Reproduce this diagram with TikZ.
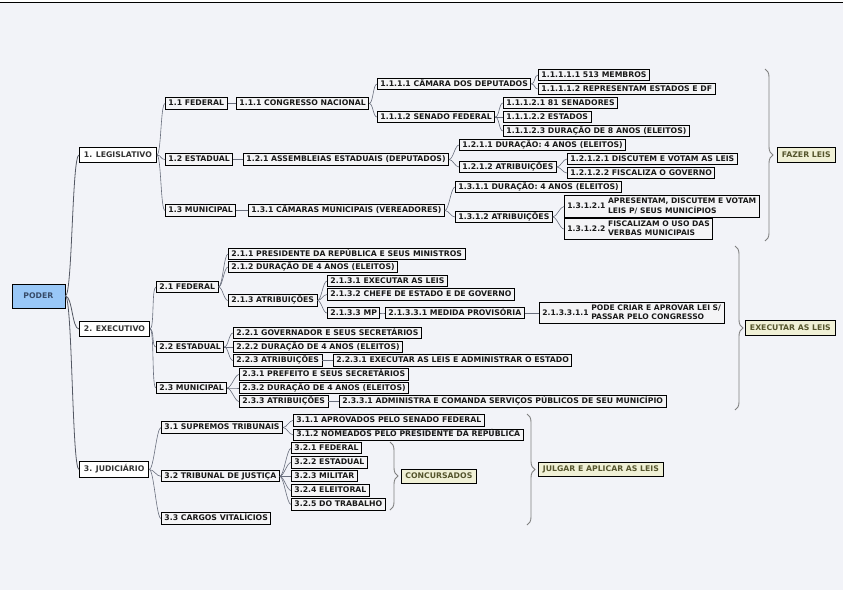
\documentclass[tikz,border=0pt]{standalone}
\usepackage{fontspec}
\setmainfont{DejaVu Sans}
\usetikzlibrary{decorations.pathreplacing}
\definecolor{bg}{RGB}{242,243,248}
\definecolor{boxfill}{RGB}{244,244,246}
\definecolor{linecol}{RGB}{105,110,125}
\definecolor{podfill}{RGB}{153,199,247}
\definecolor{podtext}{RGB}{55,75,105}
\definecolor{sumfill}{RGB}{240,240,214}
\definecolor{sumtext}{RGB}{85,85,45}
\definecolor{bracecol}{RGB}{128,128,128}
\begin{document}
\begin{tikzpicture}[x=1pt,y=-1pt,
 base/.style={draw=black, line width=0.9pt, fill=boxfill, anchor=west, inner xsep=3pt, font=\fontsize{7.75}{8.6}\selectfont\bfseries, text=black!90},
 box/.style={base, inner ysep=2pt, text height=5.6pt, text depth=1.6pt},
 mbox/.style={base, inner ysep=1.5pt, font=\fontsize{7.6}{8.6}\selectfont\bfseries},
 lvl1/.style={base, fill=white, inner xsep=4.5pt, inner ysep=4pt, text height=5.6pt, text depth=1.6pt, text=black!80},
 sumbox/.style={base, fill=sumfill, text=sumtext, inner xsep=4.5pt, inner ysep=3.5pt, text height=5.6pt, text depth=1.6pt},
 conn/.style={draw=linecol, line width=0.6pt, out=0, in=180},
 mainconn/.style={draw=linecol!80!black, line width=0.8pt, out=0, in=180},
 bracesty/.style={draw=bracecol, line width=0.9pt, decorate, decoration={brace, amplitude=8pt}},
]
\useasboundingbox (0,0) rectangle (843,590);
\fill[bg] (0,0) rectangle (843,590);
\fill[white] (0,0) rectangle (843,2);
\draw[line width=1.4pt] (0,2.7) -- (843,2.7);

% root
\node[base, fill=podfill, text=podtext, minimum width=53pt, minimum height=24pt, anchor=west, line width=0.9pt] (poder) at (11.5,296) {PODER};

% level 1
\node[lvl1] (leg) at (79,155) {1. LEGISLATIVO};
\node[lvl1] (exe) at (79,329) {2. EXECUTIVO};
\node[lvl1] (jud) at (79,469.5) {3. JUDICIÁRIO};

% Legislativo
\node[box] (l11) at (165,103.5) {1.1 FEDERAL};
\node[box] (l12) at (165,159.5) {1.2 ESTADUAL};
\node[box] (l13) at (165,210.5) {1.3 MUNICIPAL};
\node[box] (l111) at (236,103.5) {1.1.1 CONGRESSO NACIONAL};
\node[box] (l121) at (243,159.5) {1.2.1 ASSEMBLEIAS ESTADUAIS (DEPUTADOS)};
\node[box] (l131) at (248,210.5) {1.3.1 CÂMARAS MUNICIPAIS (VEREADORES)};
\node[box] (l1111) at (377,84) {1.1.1.1 CÂMARA DOS DEPUTADOS};
\node[box] (l1112) at (377,117) {1.1.1.2 SENADO FEDERAL};
\node[box] (l1211) at (459,145) {1.2.1.1 DURAÇÃO: 4 ANOS (ELEITOS)};
\node[box] (l1212) at (459,167) {1.2.1.2 ATRIBUIÇÕES};
\node[box] (l1311) at (455,187) {1.3.1.1 DURAÇÃO: 4 ANOS (ELEITOS)};
\node[box] (l1312) at (455,217) {1.3.1.2 ATRIBUIÇÕES};
\node[box] (l11111) at (538,75) {1.1.1.1.1 513 MEMBROS};
\node[box] (l11112) at (538,89) {1.1.1.1.2 REPRESENTAM ESTADOS E DF};
\node[box] (l11121) at (503,103) {1.1.1.2.1 81 SENADORES};
\node[box] (l11122) at (503,117) {1.1.1.2.2 ESTADOS};
\node[box] (l11123) at (503,131) {1.1.1.2.3 DURAÇÃO DE 8 ANOS (ELEITOS)};
\node[box] (l12121) at (567,159) {1.2.1.2.1 DISCUTEM E VOTAM AS LEIS};
\node[box] (l12122) at (567,173) {1.2.1.2.2 FISCALIZA O GOVERNO};
\node[mbox] (l13121) at (564,206.5) {1.3.1.2.1 \begin{tabular}{@{}l@{}}APRESENTAM, DISCUTEM E VOTAM\\LEIS P/ SEUS MUNICÍPIOS\end{tabular}};
\node[mbox] (l13122) at (564,229) {1.3.1.2.2 \begin{tabular}{@{}l@{}}FISCALIZAM O USO DAS\\VERBAS MUNICIPAIS\end{tabular}};

% Executivo
\node[box] (e21) at (156,287) {2.1 FEDERAL};
\node[box] (e22) at (156,347) {2.2 ESTADUAL};
\node[box] (e23) at (156,388) {2.3 MUNICIPAL};
\node[box] (e211) at (228,254) {2.1.1 PRESIDENTE DA REPÚBLICA E SEUS MINISTROS};
\node[box] (e212) at (228,267) {2.1.2 DURAÇÃO DE 4 ANOS (ELEITOS)};
\node[box] (e213) at (228,300.5) {2.1.3 ATRIBUIÇÕES};
\node[box] (e2131) at (327,281) {2.1.3.1 EXECUTAR AS LEIS};
\node[box] (e2132) at (327,294.5) {2.1.3.2 CHEFE DE ESTADO E DE GOVERNO};
\node[box] (e2133) at (327,313) {2.1.3.3 MP};
\node[box] (e21331) at (385,313) {2.1.3.3.1 MEDIDA PROVISÓRIA};
\node[mbox] (e213311) at (539,313) {2.1.3.3.1.1 \begin{tabular}{@{}l@{}}PODE CRIAR E APROVAR LEI S/\\PASSAR PELO CONGRESSO\end{tabular}};
\node[box] (e221) at (233,333) {2.2.1 GOVERNADOR E SEUS SECRETÁRIOS};
\node[box] (e222) at (233,347) {2.2.2 DURAÇÃO DE 4 ANOS (ELEITOS)};
\node[box] (e223) at (233,360.5) {2.2.3 ATRIBUIÇÕES};
\node[box] (e2231) at (333,360.5) {2.2.3.1 EXECUTAR AS LEIS E ADMINISTRAR O ESTADO};
\node[box] (e231) at (239,374.5) {2.3.1 PREFEITO E SEUS SECRETÁRIOS};
\node[box] (e232) at (239,388) {2.3.2 DURAÇÃO DE 4 ANOS (ELEITOS)};
\node[box] (e233) at (239,401.5) {2.3.3 ATRIBUIÇÕES};
\node[box] (e2331) at (339,401.5) {2.3.3.1 ADMINISTRA E COMANDA SERVIÇOS PÚBLICOS DE SEU MUNICÍPIO};

% Judiciario
\node[box] (j31) at (161,427.5) {3.1 SUPREMOS TRIBUNAIS};
\node[box] (j32) at (161,476.3) {3.2 TRIBUNAL DE JUSTIÇA};
\node[box] (j33) at (161,518.5) {3.3 CARGOS VITALÍCIOS};
\node[box] (j311) at (293,420.5) {3.1.1 APROVADOS PELO SENADO FEDERAL};
\node[box] (j312) at (293,434.8) {3.1.2 NOMEADOS PELO PRESIDENTE DA REPÚBLICA};
\node[box] (j321) at (291,448.3) {3.2.1 FEDERAL};
\node[box] (j322) at (291,462.5) {3.2.2 ESTADUAL};
\node[box] (j323) at (291,476.3) {3.2.3 MILITAR};
\node[box] (j324) at (291,490.5) {3.2.4 ELEITORAL};
\node[box] (j325) at (291,504.5) {3.2.5 DO TRABALHO};

% summaries
\node[sumbox] (fazer) at (777,155) {FAZER LEIS};
\node[sumbox] (execl) at (745,328) {EXECUTAR AS LEIS};
\node[sumbox] (conc) at (400.5,476.3) {CONCURSADOS};
\node[sumbox] (julg) at (538,469.5) {JULGAR E APLICAR AS LEIS};

% braces
\draw[bracesty] (765,69) -- (765,241);
\draw[bracesty] (735,246) -- (735,410);
\draw[bracesty] (390,442) -- (390,510);
\draw[bracesty] (527,414) -- (527,525);

% connectors root
\foreach \c in {leg,exe,jud} \draw[mainconn] (poder.east) to[distance=7pt] (\c.west);
% legislativo
\foreach \c in {l11,l12,l13} \draw[conn] (leg.east) to[distance=4.5pt] (\c.west);
\draw[conn] (l11.east) to[distance=4pt] (l111.west);
\draw[conn] (l12.east) to[distance=4pt] (l121.west);
\draw[conn] (l13.east) to[distance=4pt] (l131.west);
\foreach \c in {l1111,l1112} \draw[conn] (l111.east) to[distance=4pt] (\c.west);
\foreach \c in {l1211,l1212} \draw[conn] (l121.east) to[distance=4pt] (\c.west);
\foreach \c in {l1311,l1312} \draw[conn] (l131.east) to[distance=4pt] (\c.west);
\foreach \c in {l11111,l11112} \draw[conn] (l1111.east) to[distance=4pt] (\c.west);
\foreach \c in {l11121,l11122,l11123} \draw[conn] (l1112.east) to[distance=4pt] (\c.west);
\foreach \c in {l12121,l12122} \draw[conn] (l1212.east) to[distance=4pt] (\c.west);
\foreach \c in {l13121,l13122} \draw[conn] (l1312.east) to[distance=4pt] (\c.west);
% executivo
\foreach \c in {e21,e22,e23} \draw[conn] (exe.east) to[distance=4.5pt] (\c.west);
\foreach \c in {e211,e212,e213} \draw[conn] (e21.east) to[distance=4pt] (\c.west);
\foreach \c in {e2131,e2132,e2133} \draw[conn] (e213.east) to[distance=4pt] (\c.west);
\draw[conn] (e2133.east) to[distance=4pt] (e21331.west);
\draw[conn] (e21331.east) to[distance=8pt] (e213311.west);
\foreach \c in {e221,e222,e223} \draw[conn] (e22.east) to[distance=4pt] (\c.west);
\draw[conn] (e223.east) to[distance=4pt] (e2231.west);
\foreach \c in {e231,e232,e233} \draw[conn] (e23.east) to[distance=4pt] (\c.west);
\draw[conn] (e233.east) to[distance=4pt] (e2331.west);
% judiciario
\foreach \c in {j31,j32,j33} \draw[conn] (jud.east) to[distance=4.5pt] (\c.west);
\foreach \c in {j311,j312} \draw[conn] (j31.east) to[distance=4pt] (\c.west);
\foreach \c in {j321,j322,j323,j324,j325} \draw[conn] (j32.east) to[distance=4pt] (\c.west);
\end{tikzpicture}
\end{document}
